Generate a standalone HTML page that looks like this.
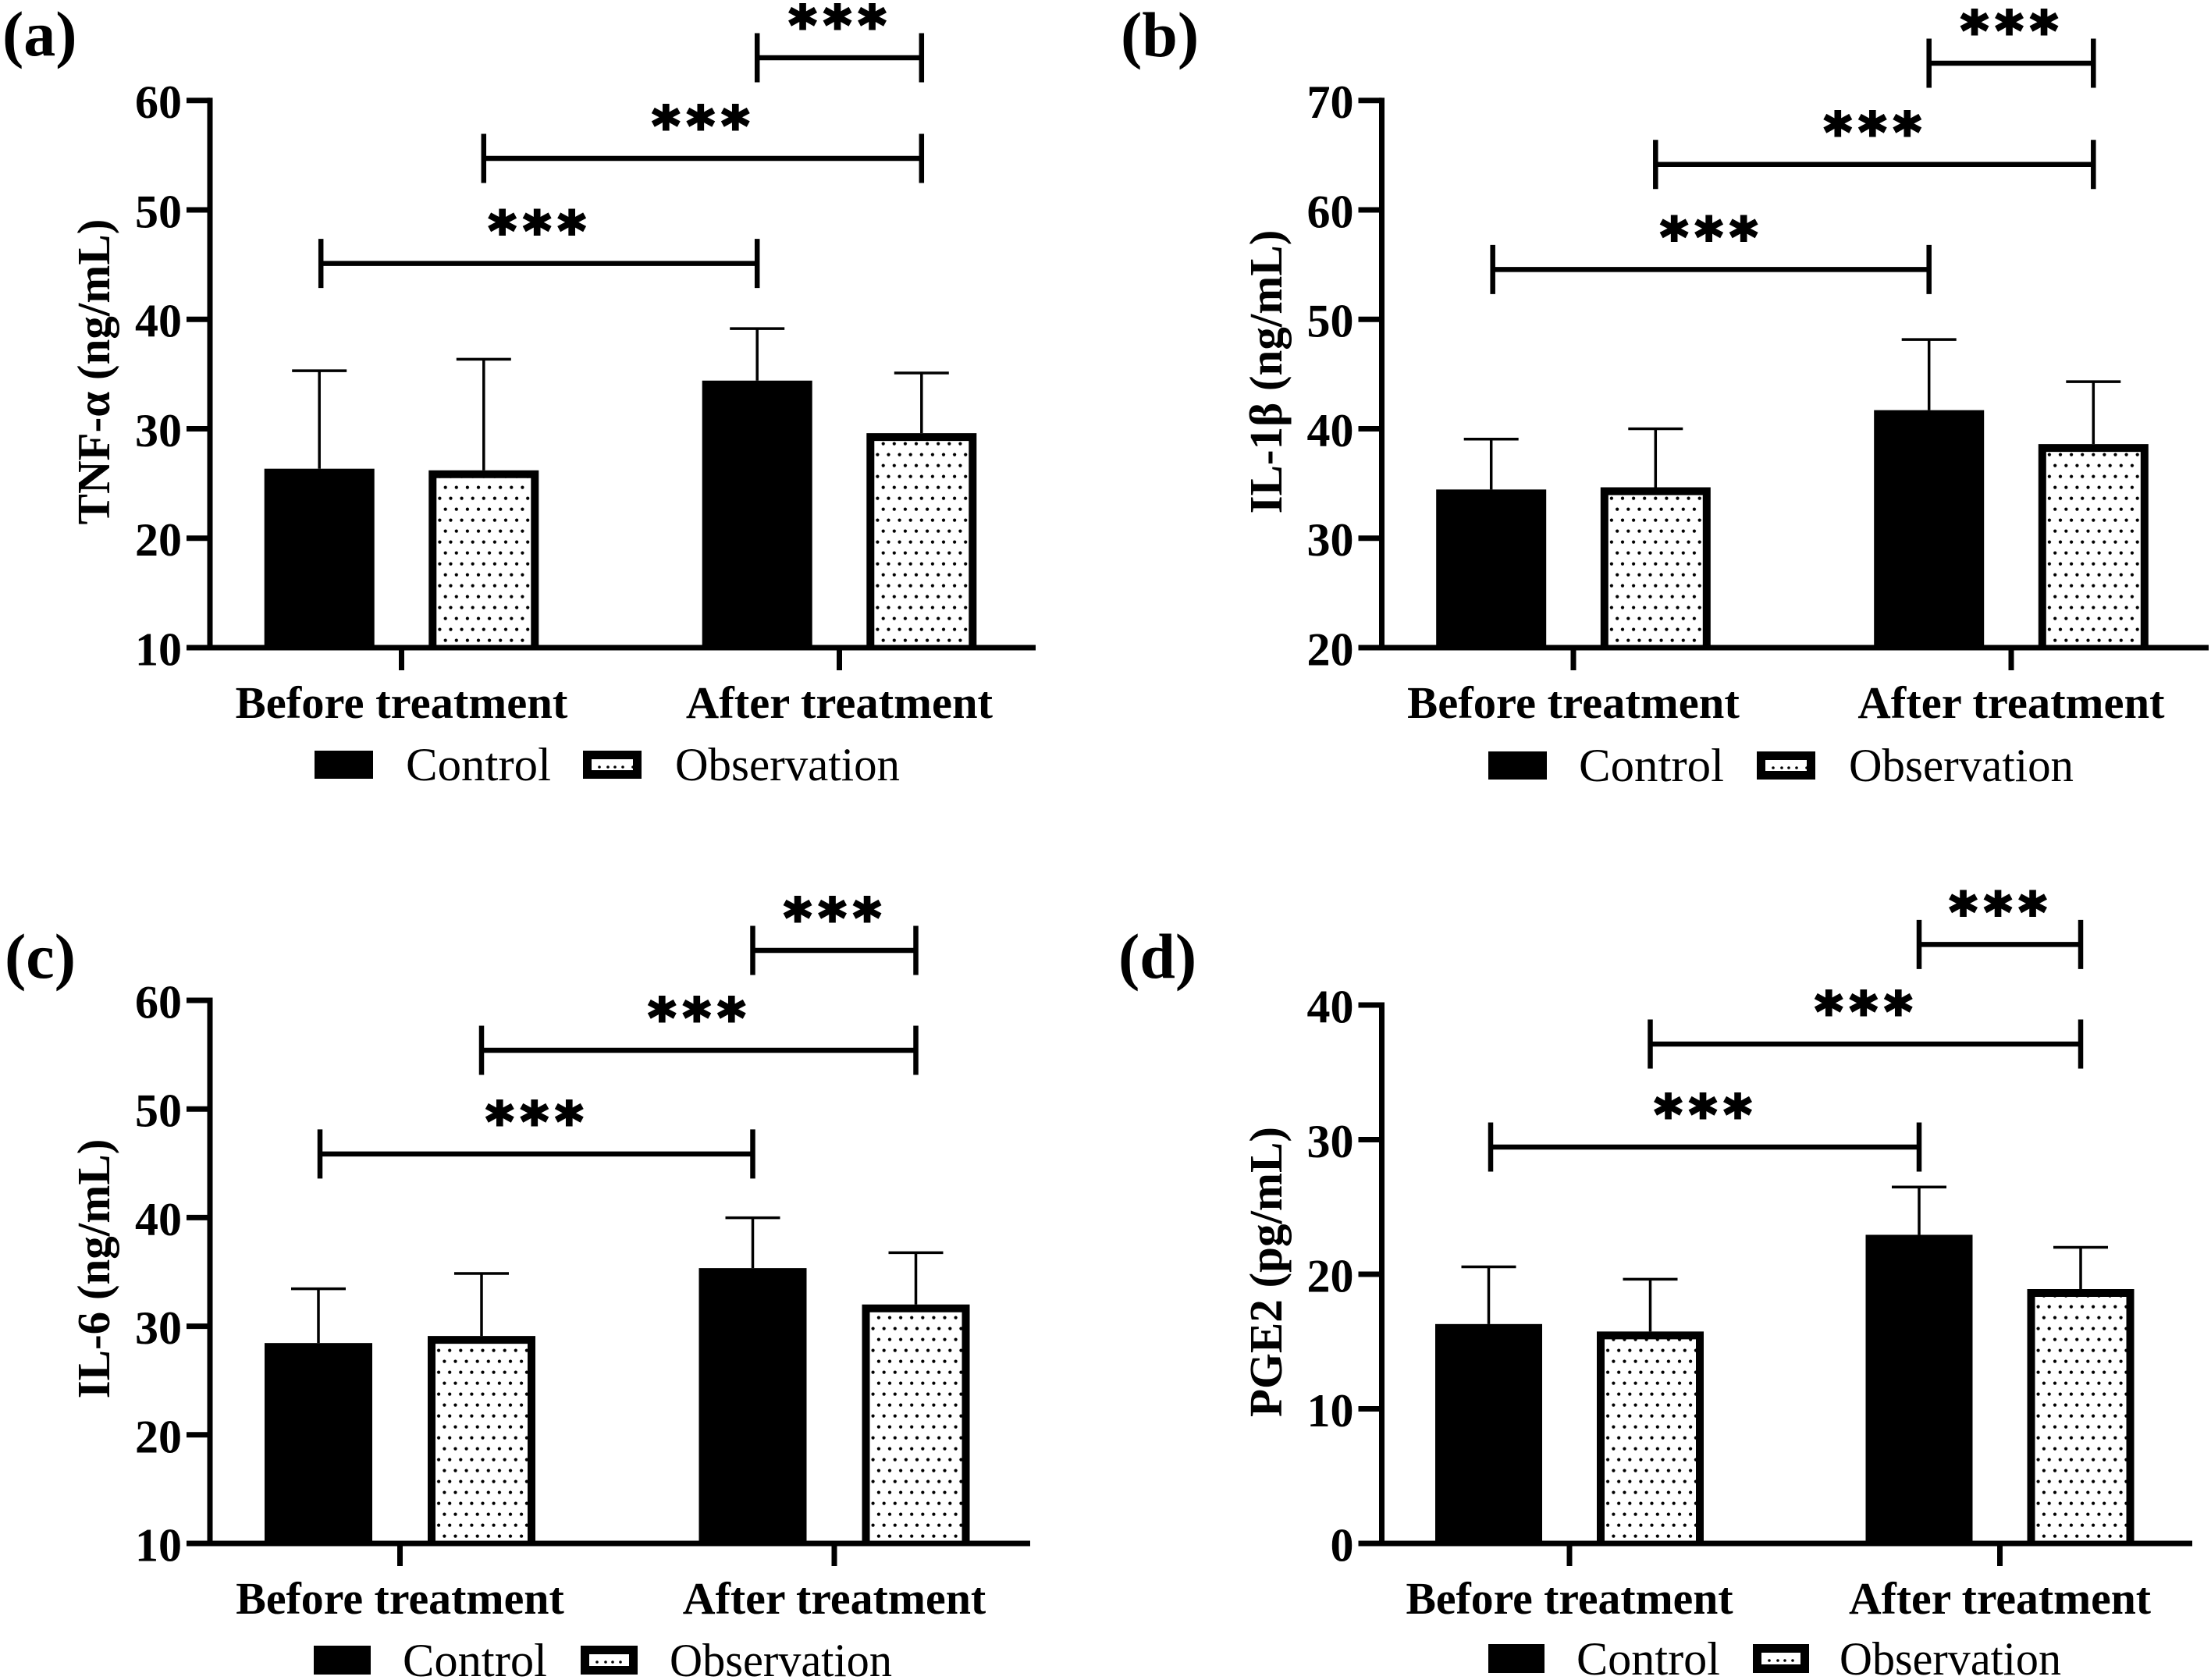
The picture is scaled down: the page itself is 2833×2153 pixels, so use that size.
<!DOCTYPE html>
<html lang="en">
<head>
<meta charset="utf-8">
<title>Inflammatory markers before and after treatment</title>
<style>
html,body{margin:0;padding:0;background:#fff;}
svg{display:block;}
text{font-family:"Liberation Serif",serif;fill:#000;}
.tick{font-size:60px;font-weight:bold;text-anchor:end;}
.cat{font-weight:bold;text-anchor:middle;}
.ytitle{font-size:59px;font-weight:bold;text-anchor:middle;}
.legend{font-size:60px;}
.panel{font-size:82px;font-weight:bold;}
.stars{font-family:"DejaVu Sans",sans-serif;font-size:68px;font-weight:bold;text-anchor:middle;stroke:#000;stroke-width:3px;}
</style>
</head>
<body>
<svg id="figure" xmlns="http://www.w3.org/2000/svg" width="2833" height="2153" viewBox="0 0 2833 2153">
<rect width="2833" height="2153" fill="#fff"/>
<defs id="defs"></defs>
</svg>
<script>
/* ---------- chart data ---------- */
const categories = ['Before treatment', 'After treatment'];
const seriesNames = ['Control', 'Observation'];

const tnfControl = [26.35, 34.4];
const tnfObservation = [26.2, 29.6];
const tnfControlUpper = [35.3, 39.15];
const tnfObservationUpper = [36.35, 35.1];
const tnfTicks = [10, 20, 30, 40, 50, 60];
const tnfBrackets = [45.1, 54.7, 63.9];

const il1bControl = [34.45, 41.7];
const il1bObservation = [34.65, 38.6];
const il1bControlUpper = [39.05, 48.15];
const il1bObservationUpper = [40.0, 44.3];
const il1bTicks = [20, 30, 40, 50, 60, 70];
const il1bBrackets = [54.55, 64.15, 73.4];

const il6Control = [28.45, 35.35];
const il6Observation = [29.1, 32.0];
const il6ControlUpper = [33.45, 39.98];
const il6ObservationUpper = [34.86, 36.77];
const il6Ticks = [10, 20, 30, 40, 50, 60];
const il6Brackets = [45.86, 55.4, 64.6];

const pge2Control = [16.3, 22.93];
const pge2Observation = [15.75, 18.9];
const pge2ControlUpper = [20.55, 26.48];
const pge2ObservationUpper = [19.63, 22.0];
const pge2Ticks = [0, 10, 20, 30, 40];
const pge2Brackets = [29.45, 37.1, 44.5];

/* ---------- panel layout ---------- */
const panels = [
  {key:'a', label:'(a)', labelX:3, labelY:71, title:'TNF-α (ng/mL)', titleX:140, titleY:476.5,
   control:tnfControl, observation:tnfObservation, controlUpper:tnfControlUpper, observationUpper:tnfObservationUpper,
   ticks:tnfTicks, brackets:tnfBrackets, bracketShift:2,
   axisX:269, baseY:830, topY:128.7, axisEnd:1327, groupX:[514.5,1075.5], offset:105.3, barW:141, catY:920, catSize:58.6,
   legendY:962, legendH:36, legendText:1000, swatch:[403,747], swatchW:75, legendX:[520,865], legendW:[186,288]},
  {key:'b', label:'(b)', labelX:1436, labelY:72, title:'IL-1β (ng/mL)', titleX:1642, titleY:476.5,
   control:il1bControl, observation:il1bObservation, controlUpper:il1bControlUpper, observationUpper:il1bObservationUpper,
   ticks:il1bTicks, brackets:il1bBrackets, bracketShift:2,
   axisX:1770.5, baseY:830, topY:128.7, axisEnd:2830, groupX:[2016,2577], offset:105.3, barW:141, catY:920, catSize:58.6,
   legendY:963, legendH:36, legendText:1001, swatch:[1907,2251], swatchW:75, legendX:[2023,2369], legendW:[186,288]},
  {key:'c', label:'(c)', labelX:6, labelY:1253, title:'IL-6 (ng/mL)', titleX:140, titleY:1626,
   control:il6Control, observation:il6Observation, controlUpper:il6ControlUpper, observationUpper:il6ObservationUpper,
   ticks:il6Ticks, brackets:il6Brackets, bracketShift:2,
   axisX:269, baseY:1978, topY:1282, axisEnd:1320, groupX:[512.5,1069], offset:104.5, barW:138, catY:2068, catSize:57.9,
   legendY:2109, legendH:37, legendText:2148, swatch:[402,744], swatchW:73, legendX:[516,858], legendW:[185,285]},
  {key:'d', label:'(d)', labelX:1433, labelY:1253, title:'PGE2 (pg/mL)', titleX:1642, titleY:1630,
   control:pge2Control, observation:pge2Observation, controlUpper:pge2ControlUpper, observationUpper:pge2ObservationUpper,
   ticks:pge2Ticks, brackets:pge2Brackets, bracketShift:2.5,
   axisX:1770.5, baseY:1978, topY:1288, axisEnd:2809, groupX:[2011,2562.5], offset:103.5, barW:137, catY:2068, catSize:57.7,
   legendY:2107, legendH:37, legendText:2146, swatch:[1907,2246], swatchW:72, legendX:[2020,2357], legendW:[184,284]}
];

/* ---------- drawing ---------- */
const NS = 'http://www.w3.org/2000/svg';
const svg = document.getElementById('figure');
const defs = document.getElementById('defs');

function el(tag, attrs, parent) {
  const node = document.createElementNS(NS, tag);
  for (const k in attrs) node.setAttribute(k, attrs[k]);
  parent.appendChild(node);
  return node;
}

function hline(parent, x1, x2, y, w) {
  return el('line', {x1: x1, x2: x2, y1: y, y2: y, stroke: '#000', 'stroke-width': w}, parent);
}

function vline(parent, x, y1, y2, w) {
  return el('line', {x1: x, x2: x, y1: y1, y2: y2, stroke: '#000', 'stroke-width': w}, parent);
}

function drawPanel(p) {
  const g = el('g', {}, svg);
  
  

  const yMin = p.ticks[0];
  const yMax = p.ticks[p.ticks.length - 1];
  const yScale = v => p.baseY - (v - yMin) / (yMax - yMin) * (p.baseY - p.topY);

  const panelLabel = el('text', {x: p.labelX, y: p.labelY, 'class': 'panel'}, g);
  panelLabel.textContent = p.label;
  
  

  const yTitle = el('text', {'class': 'ytitle', transform: 'translate(' + p.titleX + ' ' + p.titleY + ') rotate(-90)'}, g);
  yTitle.textContent = p.title;
  
  

  const barCenters = [];
  categories.forEach((cat, i) => {
    const cx = p.groupX[i];
    const cCtrl = cx - p.offset;
    const cObs = cx + p.offset;
    barCenters.push(cCtrl, cObs);

    /* control bar */
    const barTop = yScale(p.control[i]);
    const upLine = vline(g, cCtrl, yScale(p.controlUpper[i]), barTop, 3.5);
    
    
    const upCap = hline(g, cCtrl - 35, cCtrl + 35, yScale(p.controlUpper[i]), 3.5);
    
    
    const bar = el('rect', {x: cCtrl - p.barW / 2, y: barTop, width: p.barW, height: p.baseY - barTop, fill: '#000'}, g);
    
    

    /* observation bar: stroked on the top and sides only, the baseline closes it */
    const obsTop = yScale(p.observation[i]);
    const obsLeft = cObs - p.barW / 2;
    const upLine2 = vline(g, cObs, yScale(p.observationUpper[i]), obsTop, 3.5);
    
    
    const upCap2 = hline(g, cObs - 35, cObs + 35, yScale(p.observationUpper[i]), 3.5);
    
    

    const pid = 'dots-' + p.key + '-' + i;
    const pat = el('pattern', {id: pid, patternUnits: 'userSpaceOnUse', x: obsLeft, y: p.baseY, width: 14.1, height: 28}, defs);
    el('rect', {x: 0, y: 0, width: 14.1, height: 28, fill: '#fff'}, pat);
    el('circle', {cx: 7.3, cy: 18.6, r: 2.1, fill: '#000'}, pat);
    el('circle', {cx: 0, cy: 4.6, r: 2.1, fill: '#000'}, pat);
    el('circle', {cx: 14.1, cy: 4.6, r: 2.1, fill: '#000'}, pat);

    const left = obsLeft + 5;
    const right = obsLeft + p.barW - 5;
    const top = obsTop + 5;
    const obs = el('path', {d: 'M' + left + ' ' + p.baseY + 'V' + top + 'H' + right + 'V' + p.baseY, fill: 'url(#' + pid + ')', stroke: '#000', 'stroke-width': 10}, g);
    
    
  });

  /* axes */
  const yAxis = vline(g, p.axisX, p.topY - 3.5, p.baseY, 7);
  
  
  const xAxis = hline(g, p.axisX - 30, p.axisEnd, p.baseY, 7);
  
  

  p.ticks.forEach(t => {
    const y = yScale(t);
    const tick = hline(g, p.axisX - 30, p.axisX, y, 7);
    
    
    const lab = el('text', {x: p.axisX - 36, y: y + 22.5, 'class': 'tick'}, g);
    lab.textContent = String(t);
    
    
  });

  categories.forEach((cat, i) => {
    const cx = p.groupX[i];
    const tick = vline(g, cx, p.baseY, p.baseY + 29, 7);
    
    
    const lab = el('text', {x: cx, y: p.catY, 'class': 'cat', style: 'font-size:' + p.catSize + 'px'}, g);
    lab.textContent = cat;
    
    
  });

  /* significance brackets: 0 = before control to after control,
     1 = before observation to after observation, 2 = after control to after observation */
  const spans = [[barCenters[0] + p.bracketShift, barCenters[2]], [barCenters[1], barCenters[3]], [barCenters[2], barCenters[3]]];
  p.brackets.forEach((level, i) => {
    const y = yScale(level);
    const x1 = spans[i][0];
    const x2 = spans[i][1];
    const line = hline(g, x1, x2, y, 6.5);
    
    
    const capL = vline(g, x1, y - 31.5, y + 31.5, 6.5);
    
    
    const capR = vline(g, x2, y - 31.5, y + 31.5, 6.5);
    
    
    const c = (x1 + x2) / 2 - 2.5;
    const stars = el('text', {x: (c - 44.5) + ' ' + c + ' ' + (c + 44.5), y: y - 18, 'class': 'stars'}, g);
    stars.textContent = '***';
    
    
  });

  /* legend */
  const sw1 = el('rect', {x: p.swatch[0], y: p.legendY, width: p.swatchW, height: p.legendH, fill: '#000'}, g);
  
  
  const sw2 = el('rect', {x: p.swatch[1] + 5.5, y: p.legendY + 5.5, width: p.swatchW - 11, height: p.legendH - 11, fill: '#fff', stroke: '#000', 'stroke-width': 11}, g);
  
  
  [21, 32, 41, 51, 64].forEach(dx => {
    const dot = el('circle', {cx: p.swatch[1] + dx, cy: p.legendY + 21, r: 1.8, fill: '#000'}, g);
    
    
  });
  seriesNames.forEach((name, i) => {
    const t = el('text', {x: p.legendX[i], y: p.legendText, 'class': 'legend', textLength: p.legendW[i], lengthAdjust: 'spacingAndGlyphs'}, g);
    t.textContent = name;
    
    
  });
}

panels.forEach(drawPanel);
</script>
</body>
</html>
